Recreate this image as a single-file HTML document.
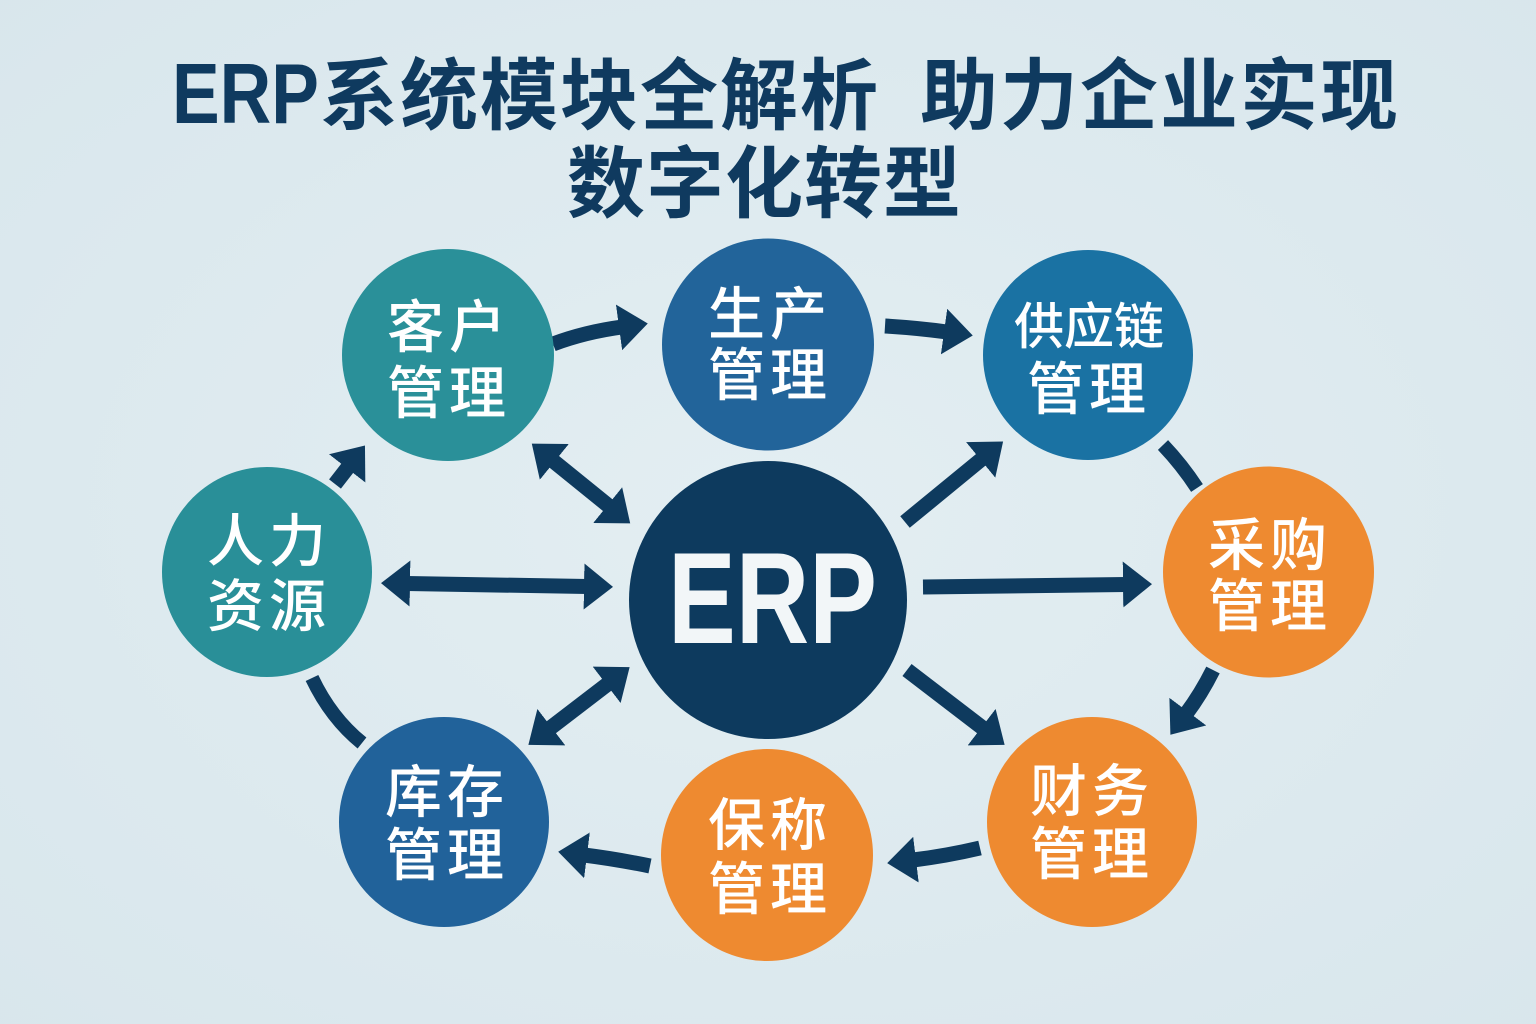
<!DOCTYPE html>
<html>
<head>
<meta charset="utf-8">
<style>
  html, body { margin: 0; padding: 0; width: 1536px; height: 1024px; overflow: hidden; background: #dde9ee; }
  svg { display: block; }
  .cjk { font-family: "Liberation Sans", "Noto Sans CJK SC", "WenQuanYi Zen Hei", sans-serif; }
  .lbl { font-family: "Liberation Sans", "Noto Sans CJK SC", "WenQuanYi Zen Hei", sans-serif; font-weight: 500; fill: #ffffff; text-anchor: middle; }
</style>
</head>
<body>
<svg width="1536" height="1024" viewBox="0 0 1536 1024" xmlns="http://www.w3.org/2000/svg">
  <defs>
    <radialGradient id="bg" cx="50%" cy="50%" r="75%">
      <stop offset="0%" stop-color="#e3eef2"/>
      <stop offset="100%" stop-color="#d8e6ec"/>
    </radialGradient>
    <marker id="ah" viewBox="0 0 30 46" refX="3" refY="23" markerWidth="30" markerHeight="46" markerUnits="userSpaceOnUse" orient="auto-start-reverse">
      <path d="M0,0 L29,23 L0,46 Z" fill="#0e3a5e"/>
    </marker>
  </defs>

  <rect x="0" y="0" width="1536" height="1024" fill="url(#bg)"/>

  <!-- Title -->
  <g fill="#0f3a5f" font-weight="700">
    <text x="172" y="123" font-family="'Liberation Sans', sans-serif" font-size="85" textLength="147" lengthAdjust="spacingAndGlyphs">ERP</text>
    <text class="cjk" x="320" y="123" font-size="78" letter-spacing="2">系统模块全解析</text>
    <text class="cjk" x="920" y="123" font-size="78" letter-spacing="2">助力企业实现</text>
    <text class="cjk" x="567" y="211" font-size="78" letter-spacing="1">数字化转型</text>
  </g>

  <!-- Connectors -->
  <g stroke="#0e3a5e" stroke-width="15" fill="none">
    <!-- 客户 -> 生产 -->
    <path d="M553,344 Q585,332 622,327" marker-end="url(#ah)"/>
    <!-- 生产 -> 供应链 -->
    <path d="M885,326 Q918,328 947,332" marker-end="url(#ah)"/>
    <!-- 供应链 - 采购 segment -->
    <path d="M1163,445 Q1182,465 1197,488" stroke-width="14"/>
    <!-- 采购 -> 财务 -->
    <path d="M1213,670 Q1201,694 1186,714" marker-end="url(#ah)"/>
    <!-- 财务 -> 保称 -->
    <path d="M980,848 Q946,856 913,860" marker-end="url(#ah)"/>
    <!-- 保称 -> 库存 -->
    <path d="M650,866 Q616,859 584,855" marker-end="url(#ah)"/>
    <!-- 库存 - 人力 arc -->
    <path d="M312,678 Q331,718 362,743" stroke-width="14"/>
    <!-- 人力 -> 客户 -->
    <path d="M335,484 L349,466" marker-end="url(#ah)"/>
    <!-- 客户 <-> ERP -->
    <path d="M552,460 L610,507" marker-start="url(#ah)" marker-end="url(#ah)"/>
    <!-- 人力 <-> ERP -->
    <path d="M407,583.5 L587,586.5" marker-start="url(#ah)" marker-end="url(#ah)"/>
    <!-- 库存 <-> ERP -->
    <path d="M549,729 L609,683" marker-start="url(#ah)" marker-end="url(#ah)"/>
    <!-- ERP -> 供应链 -->
    <path d="M905,522 L983,458" marker-end="url(#ah)"/>
    <!-- ERP -> 采购 -->
    <path d="M923,587 L1126,584.5" marker-end="url(#ah)"/>
    <!-- ERP -> 财务 -->
    <path d="M907,670 L984,729" marker-end="url(#ah)"/>
  </g>

  <!-- Circles -->
  <circle cx="448" cy="355" r="106" fill="#2a9099"/>
  <circle cx="768" cy="344.5" r="106" fill="#22649a"/>
  <circle cx="1088" cy="355" r="105" fill="#1a72a3"/>
  <circle cx="267" cy="572" r="105" fill="#298f98"/>
  <circle cx="768" cy="600" r="139" fill="#0d3a5e"/>
  <circle cx="1268.5" cy="572" r="105.5" fill="#ee8a30"/>
  <circle cx="444" cy="822" r="105" fill="#21629a"/>
  <circle cx="767" cy="855" r="106" fill="#ee8a30"/>
  <circle cx="1092" cy="822" r="105" fill="#ee8a30"/>

  <!-- ERP center text -->
  <text x="668" y="643" font-family="'Liberation Sans', sans-serif" font-weight="700" font-size="130" fill="#f2f6f8" textLength="209" lengthAdjust="spacingAndGlyphs">ERP</text>

  <!-- Node labels -->
  <g font-size="57" letter-spacing="5">
    <text class="lbl" x="449" y="347">客户</text>
    <text class="lbl" x="449" y="413">管理</text>

    <text class="lbl" x="770" y="334">生产</text>
    <text class="lbl" x="770" y="395">管理</text>

    <text class="lbl" x="269" y="561">人力</text>
    <text class="lbl" x="269" y="626">资源</text>

    <text class="lbl" x="1270" y="565">采购</text>
    <text class="lbl" x="1270" y="626">管理</text>

    <text class="lbl" x="447" y="812">库存</text>
    <text class="lbl" x="447" y="875">管理</text>

    <text class="lbl" x="770" y="845">保称</text>
    <text class="lbl" x="770" y="909">管理</text>

    <text class="lbl" x="1092" y="811">财务</text>
    <text class="lbl" x="1092" y="874">管理</text>

    <text class="lbl" x="1089" y="409">管理</text>
  </g>
  <text class="lbl" x="1089" y="344" font-size="50" letter-spacing="0">供应链</text>
</svg>
</body>
</html>
